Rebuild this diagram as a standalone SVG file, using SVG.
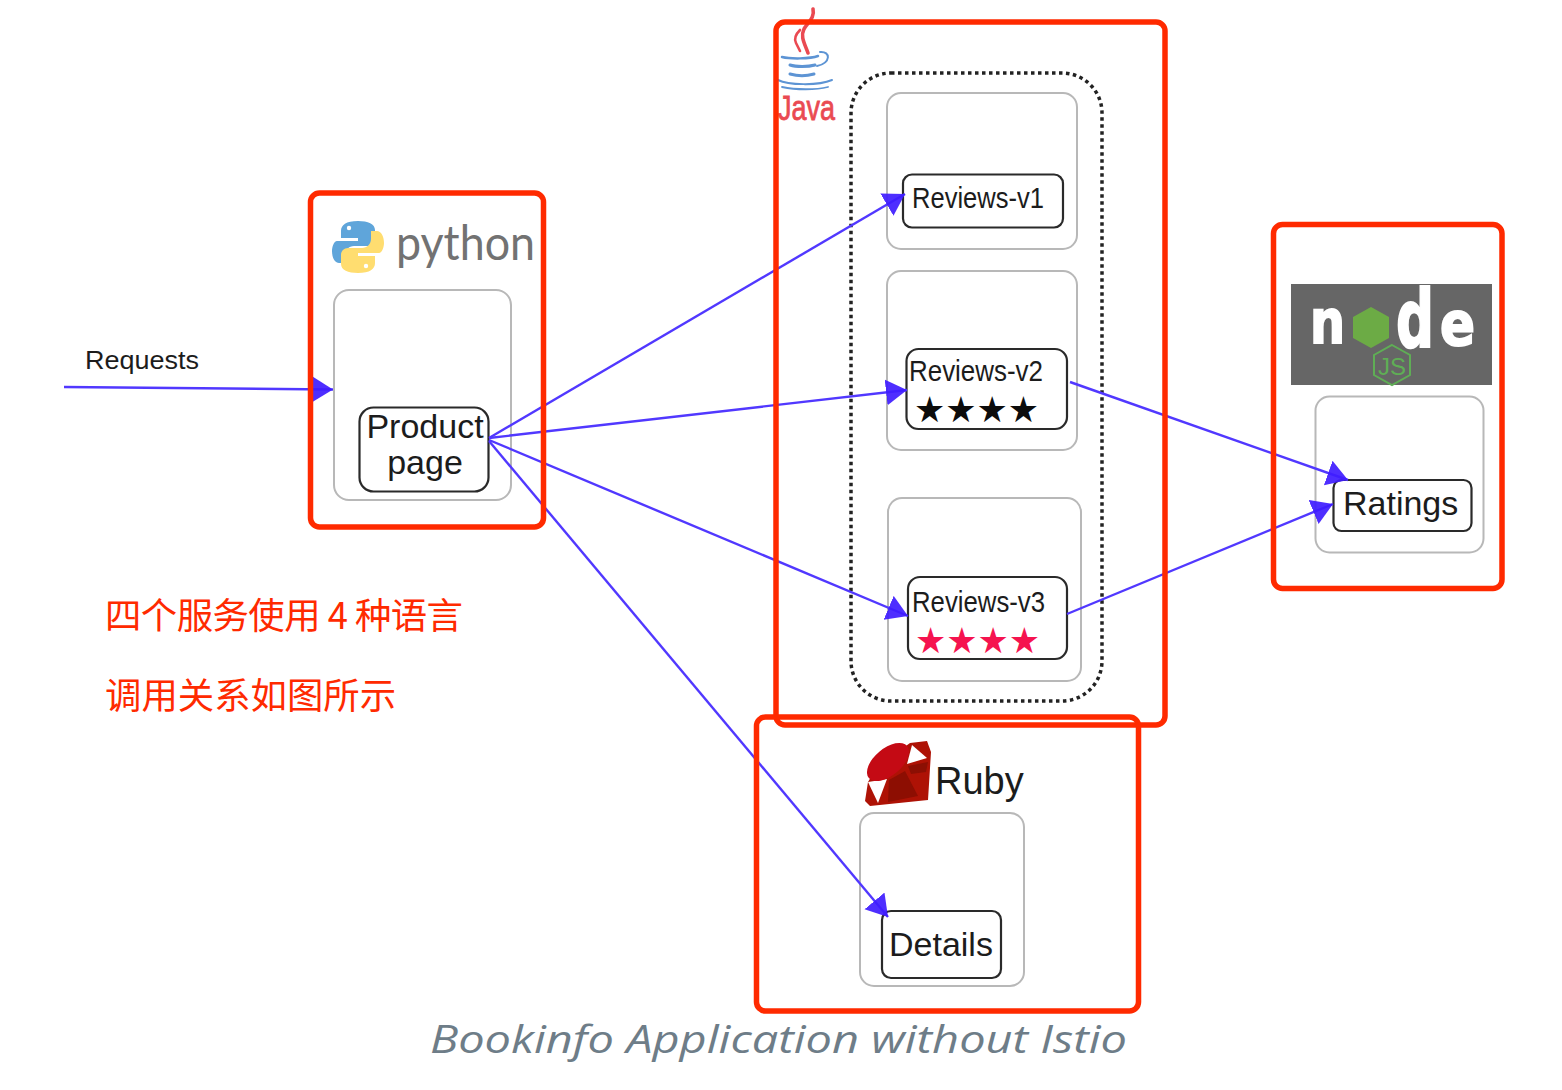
<svg xmlns="http://www.w3.org/2000/svg" width="1562" height="1090" viewBox="0 0 1562 1090">
<style>
.sans{font-family:"Liberation Sans",Arial,sans-serif;fill:#1c1c1c}
.grey{fill:none;stroke:#b8b8b8;stroke-width:2}
.svc{fill:#fff;stroke:#2a2a2a;stroke-width:2.2}
.red{fill:none;stroke:#ff2a00;stroke-width:5.5}
.conn{fill:none;stroke:#5138ff;stroke-width:2.4;marker-end:url(#arrow)}
.cjk{font-family:"Noto Sans CJK SC","Noto Sans",sans-serif;font-size:36.4px;fill:#ff2a00;font-weight:400}
</style>
<defs>
<marker id="arrow" markerUnits="userSpaceOnUse" markerWidth="24" markerHeight="28" refX="21" refY="13" orient="auto">
<path d="M0 0L21 13L0 26Z" fill="#3f1cff" fill-opacity=".92"/>
</marker>
</defs>
<rect width="1562" height="1090" fill="#fff"/>
<g id="reviews-group"><rect x="851" y="73" width="251" height="628" rx="40" fill="none" stroke="#222" stroke-width="3.5" stroke-dasharray="3.5 3.5"/></g>
<g id="productpage">
<rect class="grey" x="334" y="290" width="177" height="210" rx="15"/>
<rect class="svc" x="359.500" y="407.500" width="129" height="84" rx="14"/>
<text class="sans" x="425" y="438" font-size="34" text-anchor="middle">Product</text>
<text class="sans" x="425" y="474" font-size="34" text-anchor="middle">page</text>
</g>
<g id="reviews-v1">
<rect class="grey" x="887" y="93" width="190" height="156" rx="14"/>
<rect class="svc" x="903" y="174.500" width="160" height="53" rx="9"/>
<text class="sans" x="912" y="208" font-size="29" textLength="132" lengthAdjust="spacingAndGlyphs">Reviews-v1</text>
</g>
<g id="reviews-v2">
<rect class="grey" x="887" y="271" width="190" height="179" rx="14"/>
<rect class="svc" x="906.500" y="349" width="160.500" height="80" rx="12"/>
<text class="sans" x="909" y="381" font-size="29" textLength="134" lengthAdjust="spacingAndGlyphs">Reviews-v2</text>
<text x="914" y="422" font-family="DejaVu Sans,sans-serif" font-size="36" fill="#0c0c0c" textLength="125" lengthAdjust="spacingAndGlyphs">★★★★</text>
</g>
<g id="reviews-v3">
<rect class="grey" x="888" y="498" width="193" height="183" rx="14"/>
<rect class="svc" x="908" y="577" width="159" height="82" rx="12"/>
<text class="sans" x="912" y="612" font-size="29" textLength="133" lengthAdjust="spacingAndGlyphs">Reviews-v3</text>
<text x="915" y="653" font-family="DejaVu Sans,sans-serif" font-size="36" fill="#f5134f" textLength="125" lengthAdjust="spacingAndGlyphs">★★★★</text>
</g>
<g id="ratings">
<rect class="grey" x="1315.500" y="396.500" width="168" height="156" rx="14"/>
<rect class="svc" x="1333.500" y="480" width="138" height="51" rx="8"/>
<text class="sans" x="1343" y="515" font-size="34">Ratings</text>
</g>
<g id="details">
<rect class="grey" x="860" y="813" width="164" height="173" rx="14"/>
<rect class="svc" x="882" y="911" width="119" height="67" rx="9"/>
<text class="sans" x="889" y="956" font-size="34">Details</text>
</g>
<g id="connectors">
<path class="conn" d="M64 387L333 389.500"/>
<path class="conn" d="M489 438L905 194"/>
<path class="conn" d="M489 438L907 390"/>
<path class="conn" d="M489 440L908 616"/>
<path class="conn" d="M489 441L888 917"/>
<path class="conn" d="M1070 382L1348 480"/>
<path class="conn" d="M1067 614L1333 504"/>
</g>
<g id="python-logo">
<path d="M358 221c-12 0-17 4-17 10v7h17v3h-21c-3 0-5 6-5 10 0 7 3 12 7 12h6v-8c0-5 4-9 9-9h14c4 0 7-3 7-7v-9c0-6-7-9-17-9z" fill="#5fa5da"/>
<path d="M358 273c12 0 17-4 17-10v-7h-17v-3h21c3 0 5-6 5-10 0-7-3-12-7-12h-6v8c0 5-4 9-9 9h-14c-4 0-7 3-7 7v9c0 6 7 9 17 9z" fill="#ffdd70"/>
<circle cx="349" cy="228" r="2.200" fill="#fff"/><circle cx="366" cy="266" r="2.200" fill="#fff"/>
<text x="396" y="260" font-family="Lato,'Open Sans',sans-serif" font-size="49" fill="#727272" textLength="139" lengthAdjust="spacingAndGlyphs">python</text>
</g>
<g id="java-logo">
<g fill="none" stroke="#ea4a52" stroke-linecap="round">
<path d="M813 9c2 9-5 13-9 20-4 8 1 15 4 24" stroke-width="3.600"/>
<path d="M800 30c-5 5-6 9-4 13l4 8" stroke-width="2.600"/>
</g>
<g fill="none" stroke="#5d94d4" stroke-linecap="round">
<path d="M782 57c8 2 28 2 36-1" stroke-width="2.500"/><path d="M820 52c11-1 11 11-3 14" stroke-width="2"/>
<path d="M790 65c6 2 18 2 25 0" stroke-width="3"/><path d="M790 74c7 2 17 2 24 0" stroke-width="3"/>
<path d="M778 80c10 5 40 6 54 0" stroke-width="2"/><path d="M782 87c14 3 34 3 46 0" stroke-width="1.800"/>
</g>
<text x="778" y="120" font-family="'Liberation Sans',sans-serif" font-size="35" fill="#ea4a52" stroke="#ea4a52" stroke-width=".8" textLength="57" lengthAdjust="spacingAndGlyphs">Java</text>
</g>
<g id="node-logo">
<rect x="1291" y="284" width="201" height="101" fill="#666"/>
<text x="1310" y="343" font-family="DejaVu Sans,sans-serif" font-weight="700" font-size="60" fill="#fff" stroke="#fff" stroke-width="2" textLength="35" lengthAdjust="spacingAndGlyphs">n</text>
<path d="M1371 307l18 10v21l-18 10-18-10v-21z" fill="#6cab45"/>
<text x="1396" y="347" font-family="DejaVu Sans,sans-serif" font-weight="700" font-size="80" fill="#fff" stroke="#fff" stroke-width="2" textLength="38" lengthAdjust="spacingAndGlyphs">d</text>
<text x="1440" y="345" font-family="DejaVu Sans,sans-serif" font-weight="700" font-size="60" fill="#fff" stroke="#fff" stroke-width="2" textLength="35" lengthAdjust="spacingAndGlyphs">e</text>
<path d="M1392 345l18 10v20l-18 10-18-10v-20z" fill="none" stroke="#5fae55" stroke-width="2"/>
<text x="1392" y="375" text-anchor="middle" font-family="Liberation Sans,sans-serif" font-size="24" fill="#5fae55">JS</text>
</g>
<g id="ruby-logo">
<path d="M910 743l17-2 4 11-3 48-58 6-5-5 3-19 9-15z" fill="#ae1205"/>
<path d="M912 745l15 13-20 6z" fill="#fff"/>
<path d="M868 782l19-3-9 24z" fill="#fff"/>
<path d="M908 766l20-4-2 10-15 2z" fill="#8c0f03"/>
<path d="M889 780l16-9 13 25-30 6z" fill="#8d0e02"/>
<ellipse cx="888" cy="762" rx="25" ry="13.500" transform="rotate(-40 888 762)" fill="#c40a14"/>
<text class="sans" x="935" y="794" font-size="38">Ruby</text>
</g>
<g id="labels">
<text class="sans" x="85" y="369" font-size="26" textLength="114" lengthAdjust="spacingAndGlyphs">Requests</text>
<text class="cjk" x="105" y="629" textLength="358">四个服务使用 4 种语言</text>
<text class="cjk" x="105" y="709">调用关系如图所示</text>
<text x="430" y="1053" font-family="'Open Sans',sans-serif" font-style="italic" font-size="38" fill="#6e7d88" textLength="697" lengthAdjust="spacingAndGlyphs">Bookinfo Application without Istio</text>
</g>
<g id="highlights">
<rect class="red" x="310.500" y="193" width="233" height="334" rx="9"/>
<rect class="red" x="776" y="22" width="389" height="703" rx="9"/>
<rect class="red" x="1273.500" y="224.500" width="228.500" height="364" rx="9"/>
<rect class="red" x="756.500" y="717" width="382" height="294" rx="9"/>
</g>
</svg>
